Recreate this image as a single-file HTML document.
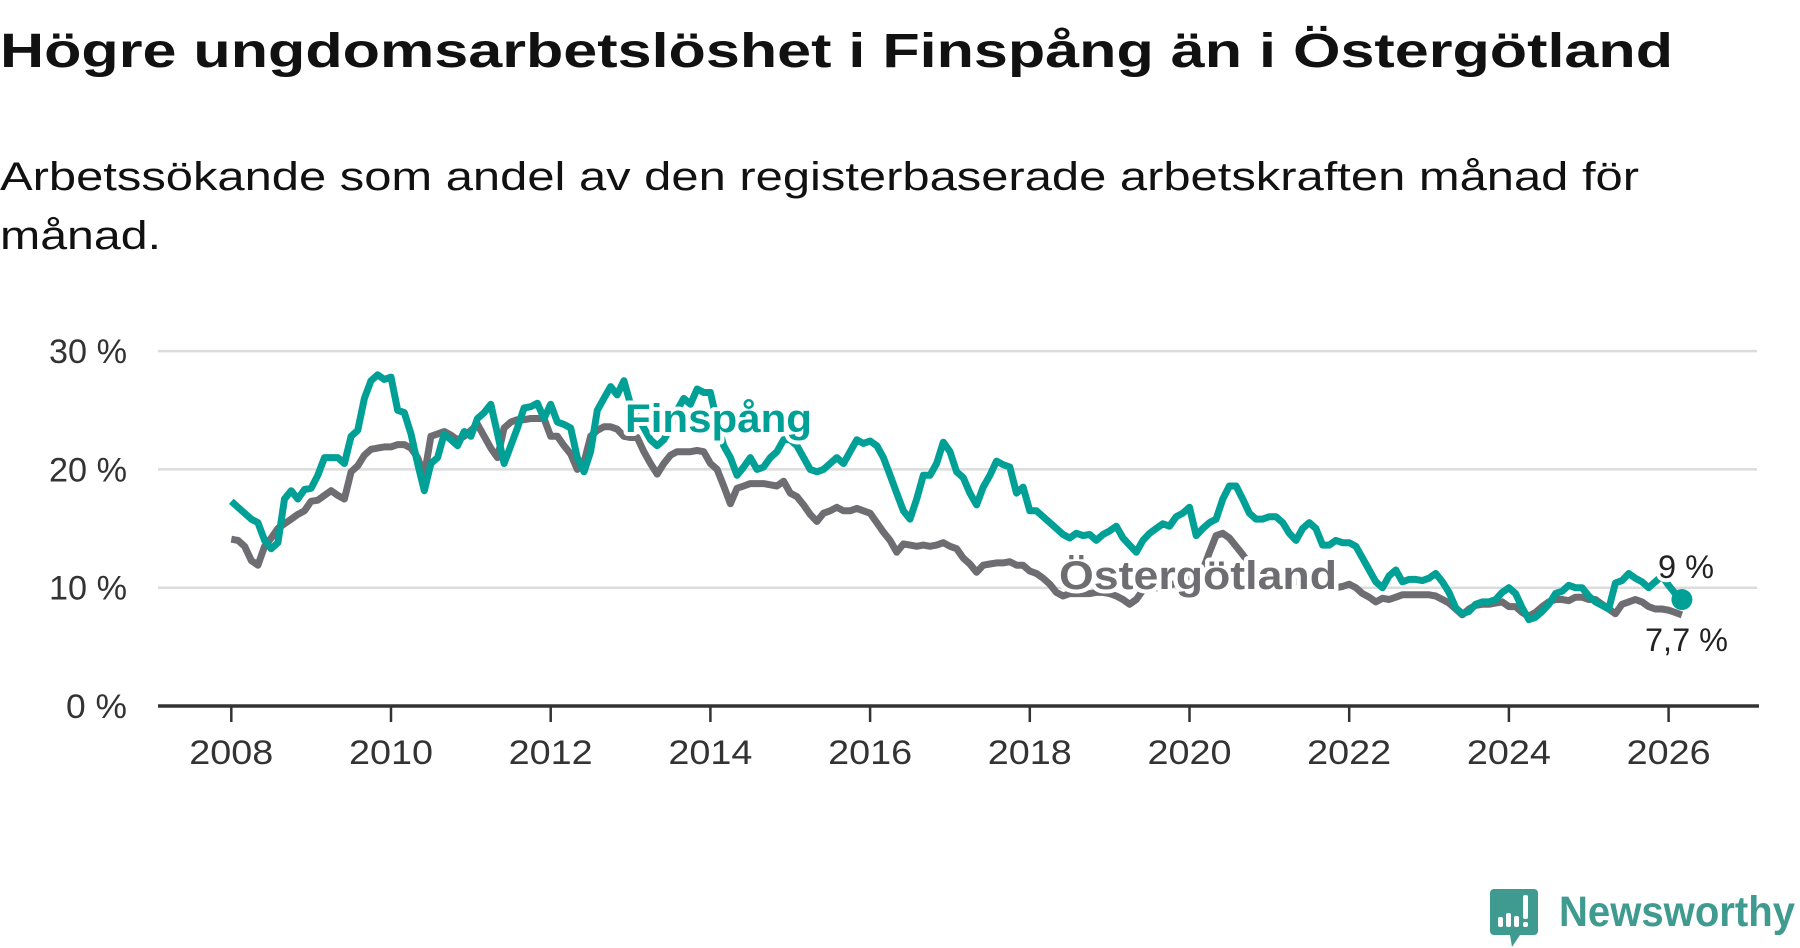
<!DOCTYPE html>
<html><head><meta charset="utf-8"><style>
html,body{margin:0;padding:0;background:#fff;width:1800px;height:948px;overflow:hidden}
svg{display:block}
text{font-family:"Liberation Sans",sans-serif}
</style></head><body>
<svg id="chart" width="1800" height="948" viewBox="0 0 1800 948">
<text x="0" y="67" font-size="48" font-weight="bold" fill="#111" textLength="1673" lengthAdjust="spacingAndGlyphs">Högre ungdomsarbetslöshet i Finspång än i Östergötland</text>
<text x="0" y="190" font-size="40" fill="#111" textLength="1639" lengthAdjust="spacingAndGlyphs">Arbetssökande som andel av den registerbaserade arbetskraften månad för</text>
<text x="0" y="249" font-size="40" fill="#111" textLength="161" lengthAdjust="spacingAndGlyphs">månad.</text>
<g id="grid"></g>
<g id="xaxis"></g>
<g id="series"></g>
<g id="labels"></g>
<g>
<path d="M1494 889 h40 a4 4 0 0 1 4 4 v38 a4 4 0 0 1 -4 4 h-14 l-8 12 l-2 -12 h-16 a4 4 0 0 1 -4 -4 v-38 a4 4 0 0 1 4 -4z" fill="#3f9a90"/>
<rect x="1498" y="917" width="5" height="10" rx="2" fill="#fff"/>
<rect x="1506" y="913" width="5" height="14" rx="2" fill="#fff"/>
<rect x="1514" y="916" width="5" height="11" rx="2" fill="#fff"/>
<rect x="1523" y="895" width="5" height="24" rx="2" fill="#fff"/>
<rect x="1523" y="922" width="5" height="5" rx="2" fill="#fff"/>
<text x="1559" y="926" font-size="43" font-weight="bold" fill="#3f9a90" textLength="236" lengthAdjust="spacingAndGlyphs">Newsworthy</text>
</g>
</svg>
<script>
const yTicks=[0,10,20,30];
const yTickLabels=["0 %","10 %","20 %","30 %"];
const xTicks=[2008,2010,2012,2014,2016,2018,2020,2022,2024,2026];
const startYear=2008;
const finspang=[17.3,16.8,16.3,15.8,15.5,14,13.3,13.8,17.5,18.2,17.5,18.3,
18.4,19.5,21,21,21,20.5,22.8,23.3,26,27.5,28,27.6,
27.8,25,24.8,23,20.5,18.2,20.5,21,23,22.5,22,23.2,
22.8,24.3,24.8,25.5,23,20.5,22,23.5,25.2,25.3,25.6,24.3,
25.5,24,23.8,23.5,21,19.8,21.5,25,26,27,26.3,27.5,
25.5,24.5,23.5,22.5,22,22.5,23.5,25,26,25.5,26.8,26.5,
26.5,24,22,21,19.5,20.2,21,20,20.2,21,21.5,22.5,
22.5,22,21,20,19.8,20,20.5,21,20.5,21.5,22.5,22.2,
22.4,22,21,19.5,18,16.5,15.8,17.5,19.5,19.5,20.5,22.3,
21.5,19.8,19.3,18,17,18.5,19.5,20.7,20.4,20.2,18,18.5,
16.5,16.5,16,15.5,15,14.5,14.2,14.6,14.4,14.5,14,14.5,
14.8,15.2,14.2,13.6,13,14,14.6,15,15.4,15.2,16,16.3,
16.8,14.4,15,15.5,15.8,17.5,18.6,18.6,17.5,16.3,15.8,15.8,
16,16,15.5,14.6,14,15,15.5,15,13.6,13.6,14,13.8,
13.8,13.5,12.5,11.5,10.5,10,11,11.5,10.5,10.7,10.7,10.6,
10.8,11.2,10.5,9.6,8.3,7.8,8,8.6,8.8,8.8,9,9.6,
10,9.5,8.3,7.3,7.5,8,8.6,9.5,9.7,10.2,10,10,
9.3,8.8,8.5,8.2,10.4,10.6,11.2,10.8,10.5,10,10.5,11,
10.2,9.5,9.0];
const ostergotland=[14.1,14,13.5,12.3,11.9,13.5,14.2,15,15.4,15.8,16.2,16.5,
17.3,17.4,17.8,18.2,17.8,17.5,19.8,20.3,21.2,21.7,21.8,21.9,
21.9,22.1,22.1,21.8,21,19.5,22.8,23,23.2,22.9,22.5,22.8,
23.3,23.8,22.8,21.8,21,23.5,24,24.2,24.2,24.3,24.3,24.3,
22.8,22.8,22,21.3,20,20.6,22.8,23.3,23.6,23.6,23.4,22.8,
22.7,22.7,21.5,20.5,19.6,20.5,21.2,21.5,21.5,21.5,21.6,21.5,
20.5,20,18.6,17.1,18.4,18.6,18.8,18.8,18.8,18.7,18.6,19,
18,17.7,17,16.2,15.6,16.3,16.5,16.8,16.5,16.5,16.7,16.5,
16.3,15.5,14.7,14,13,13.7,13.6,13.5,13.6,13.5,13.6,13.8,
13.5,13.3,12.5,12,11.3,11.9,12,12.1,12.1,12.2,11.9,11.9,
11.4,11.2,10.8,10.3,9.6,9.3,9.5,9.5,9.5,9.5,9.6,9.6,
9.5,9.3,9,8.6,9,9.8,10,10,10,10.2,10.4,10.6,
10.8,11,11.5,13,14.4,14.6,14.2,13.5,12.8,12,11.5,11.2,
11,11,10.8,10.6,10.5,10.4,10.3,10.2,10.1,10,10,10.1,
10.3,10,9.5,9.2,8.8,9.1,9,9.2,9.4,9.4,9.4,9.4,
9.4,9.3,9,8.7,8.2,7.7,8.2,8.5,8.6,8.6,8.7,8.8,
8.4,8.4,7.9,7.6,7.9,8.4,8.8,9,9,8.9,9.2,9.2,
9,9,8.6,8.2,7.8,8.6,8.8,9,8.8,8.4,8.2,8.2,
8.1,7.9,7.7];
const NS="http://www.w3.org/2000/svg";
const X=t=>231.3+(t-2008)*79.85;
const Y=v=>706-v*11.83;
function mk(tag,attrs,parent){const e=document.createElementNS(NS,tag);for(const k in attrs)e.setAttribute(k,attrs[k]);parent.appendChild(e);return e;}
const grid=document.getElementById('grid');
yTicks.forEach((v,i)=>{
  if(v>0){const l=mk('line',{x1:158,x2:1757,y1:Y(v),y2:Y(v),stroke:'#dcdcdc','stroke-width':2.5},grid);
  
  }
  const lab=yTickLabels[i];
  const t=mk('text',{x:127,y:Y(v)+12,'font-size':34,fill:'#333','text-anchor':'end',textLength:lab.length*17+10,lengthAdjust:'spacingAndGlyphs'},grid);
  t.textContent=lab;
  
  
});
const xa=document.getElementById('xaxis');
const ax=mk('line',{x1:158,x2:1759,y1:Y(0),y2:Y(0),stroke:'#333','stroke-width':3.5},xa);


xTicks.forEach(yr=>{
  mk('line',{x1:X(yr),x2:X(yr),y1:Y(0),y2:Y(0)+16,stroke:'#333','stroke-width':2.5},xa);
  const t=mk('text',{x:X(yr),y:764,'font-size':34,fill:'#333','text-anchor':'middle',textLength:84,lengthAdjust:'spacingAndGlyphs'},xa);
  t.textContent=yr;
  
  
});
const sg=document.getElementById('series');
function pts(arr){return arr.map((v,i)=>X(startYear+i/12).toFixed(1)+','+Y(v).toFixed(1)).join(' ');}
const po=mk('polyline',{points:pts(ostergotland),fill:'none',stroke:'#6e6d72','stroke-width':7,'stroke-linejoin':'round'},sg);


const pf=mk('polyline',{points:pts(finspang),fill:'none',stroke:'#00a096','stroke-width':7,'stroke-linejoin':'round'},sg);


const lastI=finspang.length-1;
const dot=mk('circle',{cx:X(startYear+lastI/12),cy:Y(finspang[lastI]),r:10.5,fill:'#00a096'},sg);


const lg=document.getElementById('labels');
function lab(txt,x,y,size,fill,weight,name,len){
  const h=mk('text',{x:x,y:y,'font-size':size,'font-weight':weight,fill:'#fff',stroke:'#fff','stroke-width':8,'stroke-linejoin':'round',textLength:len,lengthAdjust:'spacingAndGlyphs'},lg);
  h.textContent=txt;
  const t=mk('text',{x:x,y:y,'font-size':size,'font-weight':weight,fill:fill,textLength:len,lengthAdjust:'spacingAndGlyphs'},lg);
  t.textContent=txt;
  
  
}
lab('Finspång',625,432,40,'#00a096','bold','finspang-label',187);
lab('Östergötland',1059,589,40,'#6e6d72','bold','ostergotland-label',278);
lab('9 %',1658,578,32,'#222','normal','finspang-last-value',56);
lab('7,7 %',1645,651,32,'#222','normal','ostergotland-last-value',83);
</script>
</body></html>
